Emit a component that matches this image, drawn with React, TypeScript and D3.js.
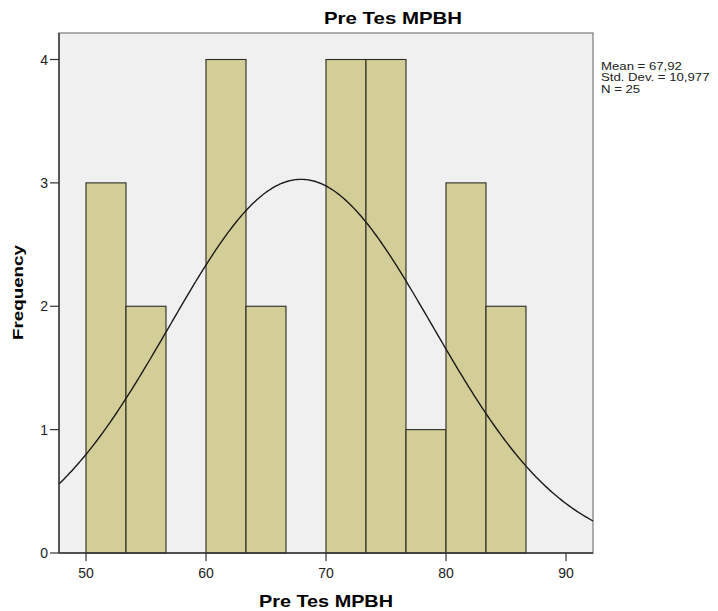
import React from "react";
import * as d3 from "d3";

const binStarts = [50, 53.333, 56.667, 60, 63.333, 66.667, 70, 73.333, 76.667, 80, 83.333];
const binCounts = [3, 2, 0, 4, 2, 0, 4, 4, 1, 3, 2];
const binWidth = 10 / 3;
const xTicks = [50, 60, 70, 80, 90];
const yTicks = [0, 1, 2, 3, 4];
const stats = { mean: 67.92, sd: 10.977, n: 25 };
const legendLines = ["Mean = 67,92", "Std. Dev. = 10,977", "N = 25"];
const xDomain = [47.75, 92.25];

export default function App() {
  const W = 718, H = 611;
  const left = 59, right = 593, top = 33, bottom = 553;
  const x = d3.scaleLinear().domain(xDomain).range([left, right]);
  const y = d3.scaleLinear().domain([0, 4]).range([bottom, 59.5]);

  const pdf = (v: number) =>
    (stats.n * binWidth) / (stats.sd * Math.sqrt(2 * Math.PI)) *
    Math.exp(-0.5 * ((v - stats.mean) / stats.sd) ** 2);
  const curvePts = d3.range(0, 301).map((i) => xDomain[0] + (xDomain[1] - xDomain[0]) * i / 300);
  const line = d3.line<number>().x((v) => x(v)).y((v) => y(pdf(v)));

  const font = "'Liberation Sans', Arial, sans-serif";

  return (
    <svg width={W} height={H} style={{ position: "absolute", left: 0, top: 0, background: "#fff" }} fontFamily={font}>
      <rect x={left} y={top} width={right - left} height={bottom - top} fill="#f0f0f0" stroke="#7a7a7a" strokeWidth={1.2} />
      {binCounts.map((c, i) =>
        c > 0 ? (
          <rect key={i} x={x(binStarts[i])} y={y(c)} width={x(binStarts[i] + binWidth) - x(binStarts[i])}
            height={y(0) - y(c)} fill="#d3ce97" stroke="#2b2b22" strokeWidth={1.1} />
        ) : null
      )}
      <path d={line(curvePts) || ""} fill="none" stroke="#1a1a1a" strokeWidth={1.4} />
      <line x1={left} y1={top} x2={left} y2={bottom} stroke="#333" strokeWidth={1.4} />
      <line x1={left} y1={bottom} x2={right} y2={bottom} stroke="#333" strokeWidth={1.4} />
      {yTicks.map((t) => (
        <g key={t}>
          <line x1={left - 9} x2={left} y1={y(t)} y2={y(t)} stroke="#333" strokeWidth={1.2} />
          <text x={48} y={y(t) + 5} textAnchor="end" fontSize={14} fill="#222">{t}</text>
        </g>
      ))}
      {xTicks.map((t) => (
        <g key={t}>
          <line x1={x(t)} x2={x(t)} y1={bottom} y2={bottom + 8} stroke="#333" strokeWidth={1.2} />
          <text x={x(t)} y={578} textAnchor="middle" fontSize={14} fill="#222">{t}</text>
        </g>
      ))}
      <text x={324} y={24} fontSize={16.5} fontWeight="bold" fill="#000" textLength={138} lengthAdjust="spacingAndGlyphs">Pre Tes MPBH</text>
      <text x={259} y={607} fontSize={16.5} fontWeight="bold" fill="#000" textLength={134} lengthAdjust="spacingAndGlyphs">Pre Tes MPBH</text>
      <text transform={`translate(23,340) rotate(-90)`} fontSize={14.5} fontWeight="bold" fill="#000" textLength={95} lengthAdjust="spacingAndGlyphs">Frequency</text>
      <g transform="translate(601,0) scale(1.2,1)">
        {legendLines.map((s, i) => (
          <text key={i} x={0} y={70 + i * 11.5} fontSize={11} fill="#222">{s}</text>
        ))}
      </g>
    </svg>
  );
}
